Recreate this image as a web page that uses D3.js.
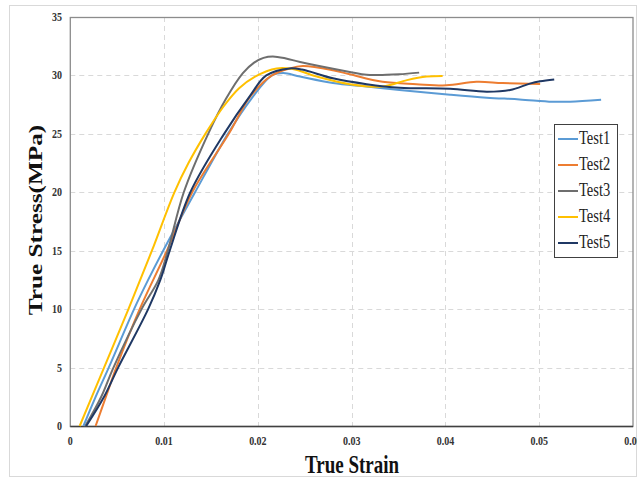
<!DOCTYPE html>
<html>
<head>
<meta charset="utf-8">
<script src="https://cdn.jsdelivr.net/npm/d3@7"></script>
<style>
  body { margin: 0; background: #fff; }
  text { font-family: "Liberation Serif", "Times New Roman", serif; }
</style>
</head>
<body>
<svg id="chart" width="637" height="479"></svg>
<script>
(function() {
  'use strict';

// series: [strain, stress MPa]
var test1 = [[0.0014,0],[0.0027,2.5],[0.0041,5],[0.0068,10],[0.0083,12.5],[0.0099,15],[0.0133,20],
  [0.0168,25],[0.0193,28],[0.0215,30],[0.0227,30.2],[0.0245,29.9],[0.0280,29.35],[0.0316,29.05],[0.0351,28.75],
  [0.0405,28.35],[0.0444,28.1],[0.0479,27.95],[0.0514,27.75],[0.0533,27.75],[0.0566,27.92]];
var test2 = [[0.0027,0],[0.0038,2.5],[0.0049,5],[0.0074,10],[0.0103,15],[0.0130,20],[0.0169,25],
  [0.0192,28.2],[0.0215,30],[0.0234,30.6],[0.0248,30.8],[0.0280,30.45],[0.0298,30.1],[0.0333,29.45],
  [0.0369,29.25],[0.0401,29.15],[0.0433,29.45],[0.0461,29.35],[0.0501,29.27]];
var test3 = [[0.0016,0],[0.0033,2.5],[0.0046,5],[0.0076,10],[0.0094,12.5],[0.0104,15],[0.0121,20],[0.0147,25],
  [0.0166,28],[0.0184,30.2],[0.0196,31.1],[0.0206,31.5],[0.0216,31.62],[0.0230,31.45],[0.0245,31.15],[0.0298,30.3],
  [0.0316,30.05],[0.0337,30.05],[0.0351,30.1],[0.0372,30.24]];
var test4 = [[0.0010,0],[0.0036,5],[0.0062,10],[0.0087,15],[0.0111,20],[0.0126,22.5],[0.0144,25],[0.0163,27.3],
  [0.0180,28.9],[0.0197,29.9],[0.0220,30.6],[0.0237,30.55],[0.0263,29.9],[0.0298,29.25],[0.0333,29.05],[0.0359,29.6],
  [0.0380,29.9],[0.0397,29.95]];
var test5 = [[0.0017,0],[0.0036,2.5],[0.0051,5],[0.0083,10],[0.0096,12.5],[0.0106,15],[0.0128,20],[0.0164,25],
  [0.0192,28.3],[0.0209,30],[0.0234,30.6],[0.0247,30.5],[0.0280,29.75],[0.0316,29.25],[0.0351,28.95],[0.0405,28.85],
  [0.0444,28.6],[0.0469,28.75],[0.0490,29.3],[0.0501,29.5],[0.0516,29.66]];

var names = ["Test1", "Test2", "Test3", "Test4", "Test5"];
var series = [test1, test2, test3, test4, test5];
var colors = ["#5b9bd5", "#ed7d31", "#6e6e6e", "#ffc000", "#1f3864"];
var xTicks = [0, 0.01, 0.02, 0.03, 0.04, 0.05, 0.06];
var yTicks = [0, 5, 10, 15, 20, 25, 30, 35];

var svg = d3.select("#chart");
var left = 70.3, right = 633, top = 17, bottom = 426;
var stretch = 1.33; // the picture is stretched vertically

var x = d3.scaleLinear().domain([0, 0.06]).range([left, right]);
var y = d3.scaleLinear().domain([0, 35]).range([bottom, top]);

// outer border
svg.append("rect").attr("x", 9.5).attr("y", 5.5).attr("width", 627).attr("height", 471)
   .attr("fill", "none").attr("stroke", "#d9d9d9");

// grid
svg.append("g").selectAll("line").data(yTicks.slice(1, -1)).enter().append("line")
   .attr("x1", left).attr("x2", right)
   .attr("y1", function(d) { return Math.round(y(d)) + 0.5; })
   .attr("y2", function(d) { return Math.round(y(d)) + 0.5; })
   .attr("stroke", "#d9d9d9").attr("stroke-dasharray", "5,4");
svg.append("g").selectAll("line").data(xTicks.slice(1, -1)).enter().append("line")
   .attr("y1", top).attr("y2", bottom)
   .attr("x1", function(d) { return Math.round(x(d)) + 0.5; })
   .attr("x2", function(d) { return Math.round(x(d)) + 0.5; })
   .attr("stroke", "#d9d9d9").attr("stroke-dasharray", "5,4");

// frame
svg.append("rect").attr("x", left).attr("y", top + 0.5).attr("width", right - left).attr("height", bottom - top)
   .attr("fill", "none").attr("stroke", "#8c8c8c").attr("stroke-width", 1.3);
svg.append("line").attr("x1", left).attr("x2", right).attr("y1", bottom + 0.5).attr("y2", bottom + 0.5)
   .attr("stroke", "#404040").attr("stroke-width", 1.5);

// tick labels
svg.append("g").selectAll("text").data(yTicks).enter().append("text")
   .attr("transform", function(d) { return "translate(62," + (y(d) + 4) + ") scale(1," + stretch + ")"; })
   .attr("text-anchor", "end").attr("font-size", 10).attr("font-weight", "bold").attr("fill", "#333")
   .text(function(d) { return d; });
svg.append("g").selectAll("text").data(xTicks).enter().append("text")
   .attr("transform", function(d) { return "translate(" + x(d) + ",445) scale(1," + stretch + ")"; })
   .attr("text-anchor", "middle").attr("font-size", 10).attr("font-weight", "bold").attr("fill", "#333")
   .text(function(d) { return d; });

// axis titles
svg.append("text").attr("transform", "translate(352,473) scale(1," + stretch + ")")
   .attr("text-anchor", "middle").attr("font-size", 19).attr("font-weight", "bold").attr("fill", "#111")
   .text("True Strain");
svg.append("text").attr("transform", "translate(42,220) rotate(-90) scale(" + stretch + ",1)")
   .attr("text-anchor", "middle").attr("font-size", 19).attr("font-weight", "bold").attr("fill", "#111")
   .text("True Stress(MPa)");

// curves
var line = d3.line()
   .x(function(d) { return x(d[0]); })
   .y(function(d) { return y(d[1]); })
   .curve(d3.curveCatmullRom.alpha(0.5));

svg.append("g").selectAll("path").data(series).enter().append("path")
   .attr("d", line)
   .attr("fill", "none")
   .attr("stroke", function(d, i) { return colors[i]; })
   .attr("stroke-width", 2);

// legend
var lg = svg.append("g");
lg.append("rect").attr("x", 554.5).attr("y", 124.5).attr("width", 63).attr("height", 133)
  .attr("fill", "#fff").attr("stroke", "#404040");
var item = lg.selectAll("g").data(names).enter().append("g")
  .attr("transform", function(d, i) { return "translate(0," + (139 + i * 26) + ")"; });
item.append("line").attr("x1", 558).attr("x2", 578).attr("y1", 0).attr("y2", 0)
  .attr("stroke", function(d, i) { return colors[i]; }).attr("stroke-width", 2);
item.append("text").attr("transform", "translate(579,5) scale(1,1.25)")
  .attr("font-size", 14.5).attr("fill", "#222").text(function(d) { return d; });

})();
</script>
</body>
</html>
